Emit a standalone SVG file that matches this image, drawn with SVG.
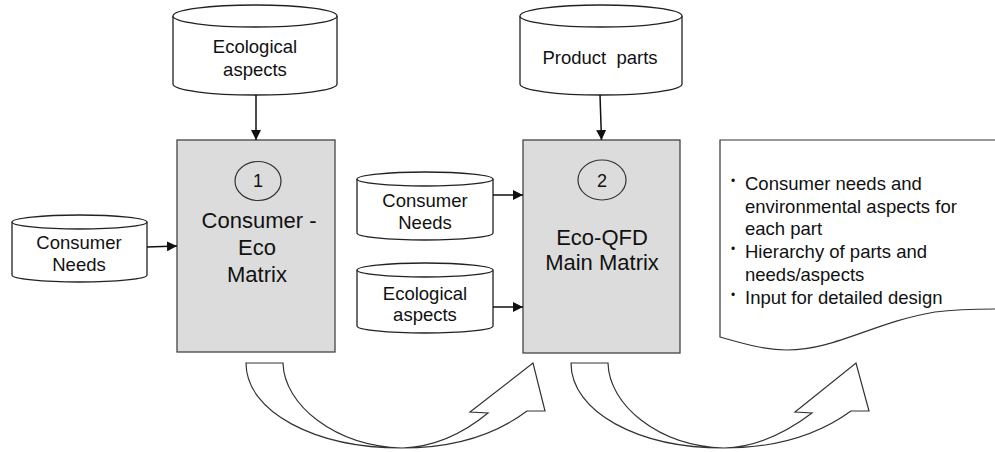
<svg xmlns="http://www.w3.org/2000/svg" width="995" height="452" viewBox="0 0 995 452">
<defs>
<style>
.cyl{fill:#fff;stroke:#222;stroke-width:1.3}
.box{fill:#dcdcdc;stroke:#444;stroke-width:1.3}
.num{fill:none;stroke:#333;stroke-width:1.2}
.t{font-family:"Liberation Sans",Arial,sans-serif;fill:#111;text-anchor:middle}
.c{font-size:18.5px}
.b{font-size:22px}
.n{font-size:18px}
.bl{font-family:"Liberation Sans",Arial,sans-serif;fill:#111;font-size:18.5px}
.dot{font-family:"Liberation Sans",Arial,sans-serif;fill:#111;font-size:12px}
.con{stroke:#111;stroke-width:1.5;fill:none}
.big{fill:#fff;stroke:#333;stroke-width:1.2}
</style>
<marker id="ah" markerUnits="userSpaceOnUse" markerWidth="11" markerHeight="10" refX="10" refY="5" orient="auto">
<path d="M0,0 L10,5 L0,10 Z" fill="#111"/>
</marker>
</defs>
<rect width="995" height="452" fill="#fff"/>

<g id="eco-top">
<path class="cyl" d="M173,16 A82,11 0 0 1 337,16 L337,84 A82,11 0 0 1 173,84 Z"/>
<path class="cyl" fill="none" d="M173,16 A82,11 0 0 0 337,16"/>
<text class="t c" x="255" y="53">Ecological</text>
<text class="t c" x="255" y="76">aspects</text>
</g>

<g id="parts-top">
<path class="cyl" d="M520,16 A81,11 0 0 1 682,16 L682,84 A81,11 0 0 1 520,84 Z"/>
<path class="cyl" fill="none" d="M520,16 A81,11 0 0 0 682,16"/>
<text class="t c" x="600" y="64" xml:space="preserve">Product  parts</text>
</g>

<g id="needs-left">
<path class="cyl" d="M12,222 A67.5,7 0 0 1 147,222 L147,275 A67.5,7 0 0 1 12,275 Z"/>
<path class="cyl" fill="none" d="M12,222 A67.5,7 0 0 0 147,222"/>
<text class="t c" x="79" y="249">Consumer</text>
<text class="t c" x="79" y="271">Needs</text>
</g>

<g id="needs-mid">
<path class="cyl" d="M357,179 A68,7 0 0 1 493,179 L493,233 A68,7 0 0 1 357,233 Z"/>
<path class="cyl" fill="none" d="M357,179 A68,7 0 0 0 493,179"/>
<text class="t c" x="425" y="207">Consumer</text>
<text class="t c" x="425" y="229">Needs</text>
</g>

<g id="eco-mid">
<path class="cyl" d="M357,270 A68,7 0 0 1 493,270 L493,326 A68,7 0 0 1 357,326 Z"/>
<path class="cyl" fill="none" d="M357,270 A68,7 0 0 0 493,270"/>
<text class="t c" x="425" y="300">Ecological</text>
<text class="t c" x="425" y="321">aspects</text>
</g>

<g id="matrix1">
<rect class="box" x="177" y="140" width="158" height="212"/>
<ellipse class="num" cx="258" cy="181" rx="23" ry="19.5"/>
<text class="t n" x="258" y="187">1</text>
<text class="t b" x="259" y="228">Consumer -</text>
<text class="t b" x="257" y="255">Eco</text>
<text class="t b" x="257" y="282">Matrix</text>
</g>

<g id="matrix2">
<rect class="box" x="523" y="140" width="157" height="213"/>
<ellipse class="num" cx="602" cy="180" rx="24" ry="20"/>
<text class="t n" x="602" y="187">2</text>
<text class="t b" x="602" y="245">Eco-QFD</text>
<text class="t b" x="602" y="270">Main Matrix</text>
</g>

<g id="output-doc">
<path class="big" d="M1000,140 L720,140 L720,337 C745,344 765,350 787,350 C835,350 875,322 935,312 C960,309 980,309 1000,309"/>
<text class="dot" x="731" y="185">•</text>
<text class="bl" x="745" y="190">Consumer needs and</text>
<text class="bl" x="745" y="213">environmental aspects for</text>
<text class="bl" x="745" y="235">each part</text>
<text class="dot" x="731" y="253">•</text>
<text class="bl" x="745" y="258">Hierarchy of parts and</text>
<text class="bl" x="745" y="281">needs/aspects</text>
<text class="dot" x="731" y="299">•</text>
<text class="bl" x="745" y="304">Input for detailed design</text>
</g>

<g id="connectors">
<line class="con" x1="256" y1="95" x2="256" y2="140" marker-end="url(#ah)"/>
<line class="con" x1="600" y1="95" x2="601.5" y2="140" marker-end="url(#ah)"/>
<line class="con" x1="147" y1="247" x2="177" y2="246" marker-end="url(#ah)"/>
<line class="con" x1="493" y1="195" x2="523" y2="195" marker-end="url(#ah)"/>
<line class="con" x1="493" y1="307" x2="523" y2="307" marker-end="url(#ah)"/>
<path id="flow1" class="big" d="M246,363 L283,363 C284,405 335,446 402,448 C435,447 465,432 488,413 L470,412 L533,363 L545,411 L527,411 C495,435 455,448 402,448 C315,448 246,412 246,363 Z"/>
<path id="flow2" class="big" d="M571,363 L608,363 C609,405 658,446 724,448 C757,447 787,432 812,413 L795,412 L856,363 L869,411 L851,411 C818,435 778,448 724,448 C638,448 571,412 571,363 Z"/>
</g>
</svg>
